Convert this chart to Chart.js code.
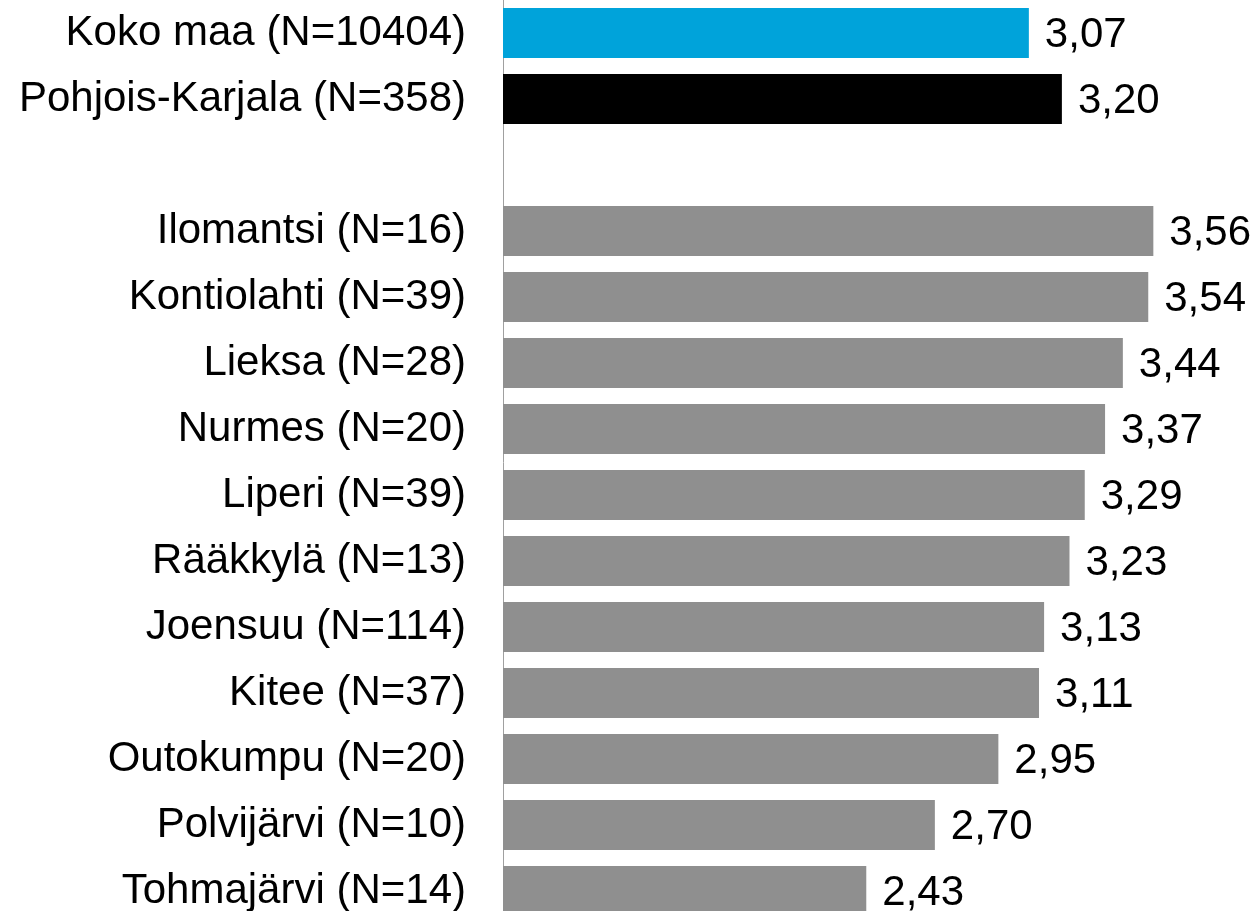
<!DOCTYPE html>
<html>
<head>
<meta charset="utf-8">
<script src="https://cdn.jsdelivr.net/npm/chart.js@4"></script>
<style>
  html, body { margin: 0; padding: 0; background: #fff; overflow: hidden; }
</style>
</head>
<body>
<canvas id="chart" width="1258" height="924"></canvas>
<script>
// rows top to bottom, empty row is the gap between the region and municipalities
const labels = [
    "Koko maa (N=10404)",
    "Pohjois-Karjala (N=358)",
    "",
    "Ilomantsi (N=16)",
    "Kontiolahti (N=39)",
    "Lieksa (N=28)",
    "Nurmes (N=20)",
    "Liperi (N=39)",
    "Rääkkylä (N=13)",
    "Joensuu (N=114)",
    "Kitee (N=37)",
    "Outokumpu (N=20)",
    "Polvijärvi (N=10)",
    "Tohmajärvi (N=14)"
];
const values = [3.07, 3.20, null, 3.56, 3.54, 3.44, 3.37, 3.29, 3.23, 3.13, 3.11, 2.95, 2.70, 2.43];

const axisMin = 1;
const axisMax = 3.972;

const barColors = labels.map((_, i) => i === 0 ? "#00a3da" : (i === 1 ? "#000000" : "#8f8f8f"));

const FONT = "'Liberation Sans', Arial, sans-serif";

const valueLabels = {
    id: "valueLabels",
    afterDatasetsDraw(chart) {
        const ctx = chart.ctx;
        const meta = chart.getDatasetMeta(0);
        ctx.save();
        ctx.font = "42px " + FONT;
        ctx.fillStyle = "#000";
        ctx.textAlign = "left";
        ctx.textBaseline = "middle";
        meta.data.forEach((bar, i) => {
            const v = values[i];
            if (v == null) return;
            ctx.fillText(v.toFixed(2).replace(".", ","), bar.x + 16, bar.y + 2);
        });
        ctx.restore();
    }
};

new Chart(document.getElementById("chart").getContext("2d"), {
    type: "bar",
    data: {
        labels: labels,
        datasets: [{
            data: values,
            base: axisMin,
            backgroundColor: barColors,
            borderWidth: 0,
            barPercentage: 0.76,
            categoryPercentage: 1
        }]
    },
    options: {
        indexAxis: "y",
        responsive: false,
        animation: false,
        layout: { padding: 0 },
        plugins: {
            legend: { display: false },
            tooltip: { enabled: false }
        },
        scales: {
            x: {
                display: false,
                min: axisMin,
                max: axisMax
            },
            y: {
                afterFit(scale) {
                    scale.width = 503;
                    scale.paddingTop = 0;
                    scale.paddingBottom = 0;
                },
                grid: { display: false, drawTicks: false },
                border: { display: true, color: "#a0a0a0", width: 1 },
                ticks: {
                    padding: 37,
                    color: "#000",
                    font: { family: FONT, size: 42 },
                    autoSkip: false
                }
            }
        }
    },
    plugins: [valueLabels]
});
</script>
</body>
</html>
